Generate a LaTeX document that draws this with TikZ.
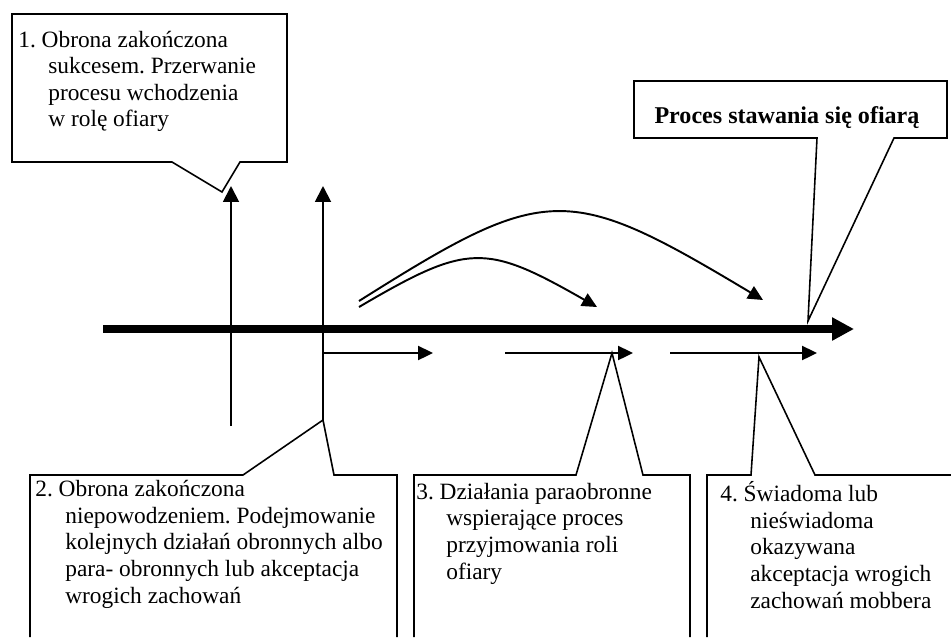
\documentclass[tikz,border=0pt]{standalone}
\usepackage{fontspec}
\setmainfont{Liberation Serif}
\usetikzlibrary{arrows.meta, positioning}

\newcommand{\hangline}{\\\hspace*{0.6cm}}

\begin{document}
\begin{tikzpicture}[x=0.02cm, y=-0.02cm]
		\tikzstyle{Callout} = [draw=black, line width=0.9pt, line join=miter, fill=white]
		\tikzstyle{Label} = [anchor=north west, inner sep=0pt, align=left, font=\fontsize{13.3}{15.1}\selectfont\frenchspacing]
		\tikzstyle{axis} = [line width=4.5pt, -{Triangle[length=12.5pt, width=12.5pt]}]
		\tikzstyle{arrow} = [line width=1.1pt, -{Triangle[length=8.5pt, width=8pt]}]
		\tikzstyle{uparrow} = [line width=1.1pt, -{Triangle[length=9pt, width=9pt]}]
		
		\useasboundingbox (0,0) rectangle (951,637);
		
		%\draw[step=50,gray,very thin] (0,0) grid (951,637);
		
		\coordinate (start) at (103,329);
		\coordinate (end) at (854,329);
		\coordinate (succB) at (231,426);
		\coordinate (succT) at (231,186);
		\coordinate (failB) at (323,420);
		\coordinate (failT) at (323,186);
		\coordinate (stepA) at (323,353);
		\coordinate (stepB) at (433,353);
		\coordinate (paraA) at (505,353);
		\coordinate (paraB) at (633,353);
		\coordinate (acceptA) at (670,353);
		\coordinate (acceptB) at (817,353);
		\coordinate (curveA) at (359,301);
		\coordinate (curveB) at (763,300);
		\coordinate (curveC) at (359,307);
		\coordinate (curveD) at (597,307);
		
		% callouts
		\draw[Callout] (12,14) -- (287,14) -- (287,162) -- (240,162) -- (222,192) -- (172,162) -- (12,162) -- cycle;
		\draw[Callout] (634,81) -- (947,81) -- (947,138) -- (894,138) -- (808,321) -- (817,138) -- (634,138) -- cycle;
		\draw[Callout] (30,637) -- (30,475) -- (243,475) -- (failB) -- (334,475) -- (397,475) -- (397,637);
		\draw[Callout] (414,637) -- (414,475) -- (576,475) -- (612,353) -- (643,475) -- (690,475) -- (690,637);
		\draw[Callout] (707,637) -- (707,475) -- (751,475) -- (759,357) -- (815,475) -- (951,475);
		
		\node (success) [Label] at (18,28.4) {\strut 1. Obrona zakończona\hangline sukcesem. Przerwanie\hangline procesu wchodzenia\hangline w rolę ofiary};
		\node (failure) [Label] at (35,478) {\strut 2. Obrona zakończona\hangline niepowodzeniem. Podejmowanie\hangline kolejnych działań obronnych albo\hangline para- obronnych lub akceptacja\hangline wrogich zachowań};
		\node (para) [Label] at (416,480.5) {\strut 3. Działania paraobronne\hangline wspierające proces\hangline przyjmowania roli\hangline ofiary};
		\node (accept) [Label] at (720,481.5) {\strut 4. Świadoma lub\hangline nieświadoma\hangline okazywana\hangline akceptacja wrogich\hangline zachowań mobbera};
		\node (title) [anchor=base, inner sep=0pt, font=\fontsize{13.7}{15.1}\selectfont\bfseries] at (787,123) {Proces stawania się ofiarą};
		
		\draw[axis] (start) -- (end);
		\draw[uparrow] (succB) -- (succT);
		\draw[uparrow] (failB) -- (failT);
		\draw[arrow] (stepA) -- (stepB);
		\draw[arrow] (paraA) -- (paraB);
		\draw[arrow] (acceptA) -- (acceptB);
		\draw[arrow] (curveA) .. controls (547,182.5) and (567,182.5) .. (curveB);
		\draw[arrow] (curveC) .. controls (468,243) and (485,243) .. (curveD);
		\end{tikzpicture}
\end{document}
